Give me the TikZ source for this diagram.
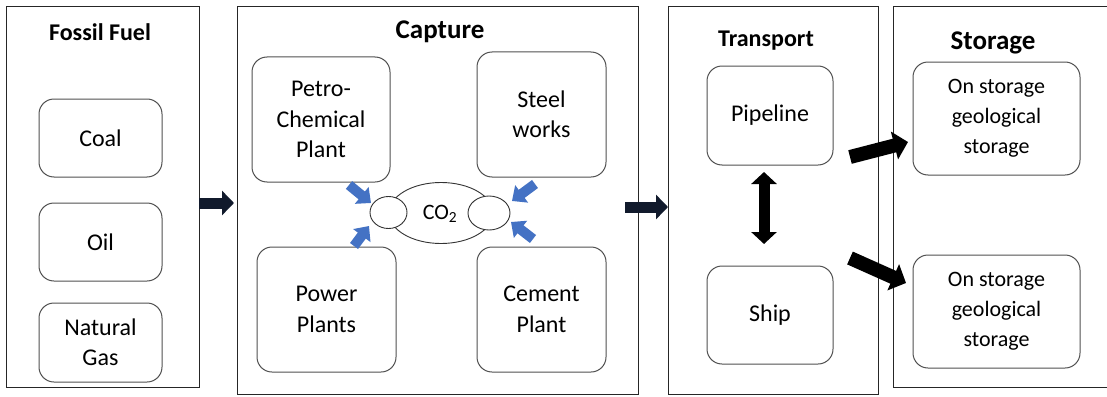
\documentclass[tikz,border=0pt]{standalone}
\usepackage{fontspec}
\setmainfont{Carlito}
\usetikzlibrary{arrows.meta,shapes.geometric}
\definecolor{boxline}{HTML}{505050}
\definecolor{navy}{HTML}{111A2C}
\definecolor{arrblue}{HTML}{4472C4}
\tikzset{
  panel/.style={draw=black!85, line width=0.9pt},
  item/.style={draw=boxline, line width=1pt, rounded corners=15pt, align=center,
    font=\fontsize{24}{30.5}\selectfont, inner sep=0pt},
  sitem/.style={item, font=\fontsize{22}{30}\selectfont},
  ptitle/.style={font=\bfseries\fontsize{24}{28}\selectfont, anchor=base},
  bigtitle/.style={font=\bfseries\fontsize{27}{30}\selectfont, anchor=base},
  navyarrow/.style={draw=navy, line width=11pt, -{Triangle[length=12pt,width=24pt]}},
  blackarrow/.style={draw=black, line width=14pt, -{Triangle[length=14pt,width=28pt]}},
  dblarrow/.style={draw=black, line width=11pt, {Triangle[length=12pt,width=25pt]}-{Triangle[length=12pt,width=25pt]}},
  bluearrow/.style={draw=arrblue, line width=10pt, -{Triangle[length=12pt,width=21pt]}},
  ring/.style={draw=black!80, line width=0.9pt, fill=white, ellipse, inner sep=0pt}
}
\begin{document}
\begin{tikzpicture}[x=1pt,y=-1pt]
\clip (0,0) rectangle (1107,396);
\fill[white] (0,0) rectangle (1107,396);
% panels
\draw[panel] (6,6) rectangle (199,387);
\draw[panel] (237,6) rectangle (638,394);
\draw[panel] (668,6) rectangle (878,394);
\draw[panel] (893,6) rectangle (1115,387);
% titles
\node[ptitle] (tff) at (100,41) {Fossil Fuel};
\node[bigtitle] (tcap) at (440,38) {Capture};
\node[ptitle] (ttr) at (766,47) {Transport};
\node[bigtitle] (tst) at (993,50) {Storage};
% fossil fuel items
\node[item, minimum width=123pt, minimum height=78pt] (coal) at (100.5,138) {Coal};
\node[item, minimum width=123pt, minimum height=78pt] (oil) at (100.5,242) {Oil};
\node[item, minimum width=123pt, minimum height=79pt] (gas) at (100.5,342.5) {Natural\\Gas};
% capture items
\node[item, minimum width=138pt, minimum height=125pt] (petro) at (321,119.5) {Petro-\\Chemical\\Plant};
\node[item, minimum width=129pt, minimum height=125pt] (steel) at (541.5,114.5) {Steel\\works};
\node[item, minimum width=139pt, minimum height=125pt] (power) at (326.5,309.5) {Power\\Plants};
\node[item, minimum width=129pt, minimum height=125pt] (cement) at (541.5,309.5) {Cement\\Plant};
% CO2
\node[ring, minimum width=104pt, minimum height=61pt] (co2) at (441,213) {};
\node[ring, minimum width=37pt, minimum height=32pt] (lring) at (388.5,212.5) {};
\node[ring, minimum width=42pt, minimum height=34pt] (rring) at (489,213) {};
\node[font=\fontsize{22}{26}\selectfont] (co2t) at (440,214) {CO\textsubscript{2}};
% blue arrows
\coordinate (b1s) at (349,185); \coordinate (b1e) at (371,203);
\coordinate (b2s) at (354,246); \coordinate (b2e) at (369,226);
\coordinate (b3s) at (535,184); \coordinate (b3e) at (512,201);
\coordinate (b4s) at (533,239); \coordinate (b4e) at (511,222);
\draw[bluearrow] (b1s) -- (b1e);
\draw[bluearrow] (b2s) -- (b2e);
\draw[bluearrow] (b3s) -- (b3e);
\draw[bluearrow] (b4s) -- (b4e);
% transport items
\node[item, minimum width=126pt, minimum height=99pt] (pipe) at (770,115.5) {Pipeline};
\node[item, minimum width=126pt, minimum height=98pt] (ship) at (770,315) {Ship};
% storage items
\node[sitem, minimum width=167pt, minimum height=113pt] (st1) at (996.5,118.5) {On storage\\geological\\storage};
\node[sitem, minimum width=167pt, minimum height=113pt] (st2) at (996.5,311.5) {On storage\\geological\\storage};
% panel arrows
\coordinate (a1s) at (199,203); \coordinate (a1e) at (234,203);
\coordinate (a2s) at (625,207); \coordinate (a2e) at (668,207);
\draw[navyarrow] (a1s) -- (a1e);
\draw[navyarrow] (a2s) -- (a2e);
% double arrow
\coordinate (dtop) at (764,172); \coordinate (dbot) at (764,244);
\draw[dblarrow] (dtop) -- (dbot);
% storage arrows
\coordinate (s1s) at (850,157); \coordinate (s1e) at (908,142);
\coordinate (s2s) at (850,258); \coordinate (s2e) at (906,283);
\draw[blackarrow] (s1s) -- (s1e);
\draw[blackarrow] (s2s) -- (s2e);
\end{tikzpicture}
\end{document}
